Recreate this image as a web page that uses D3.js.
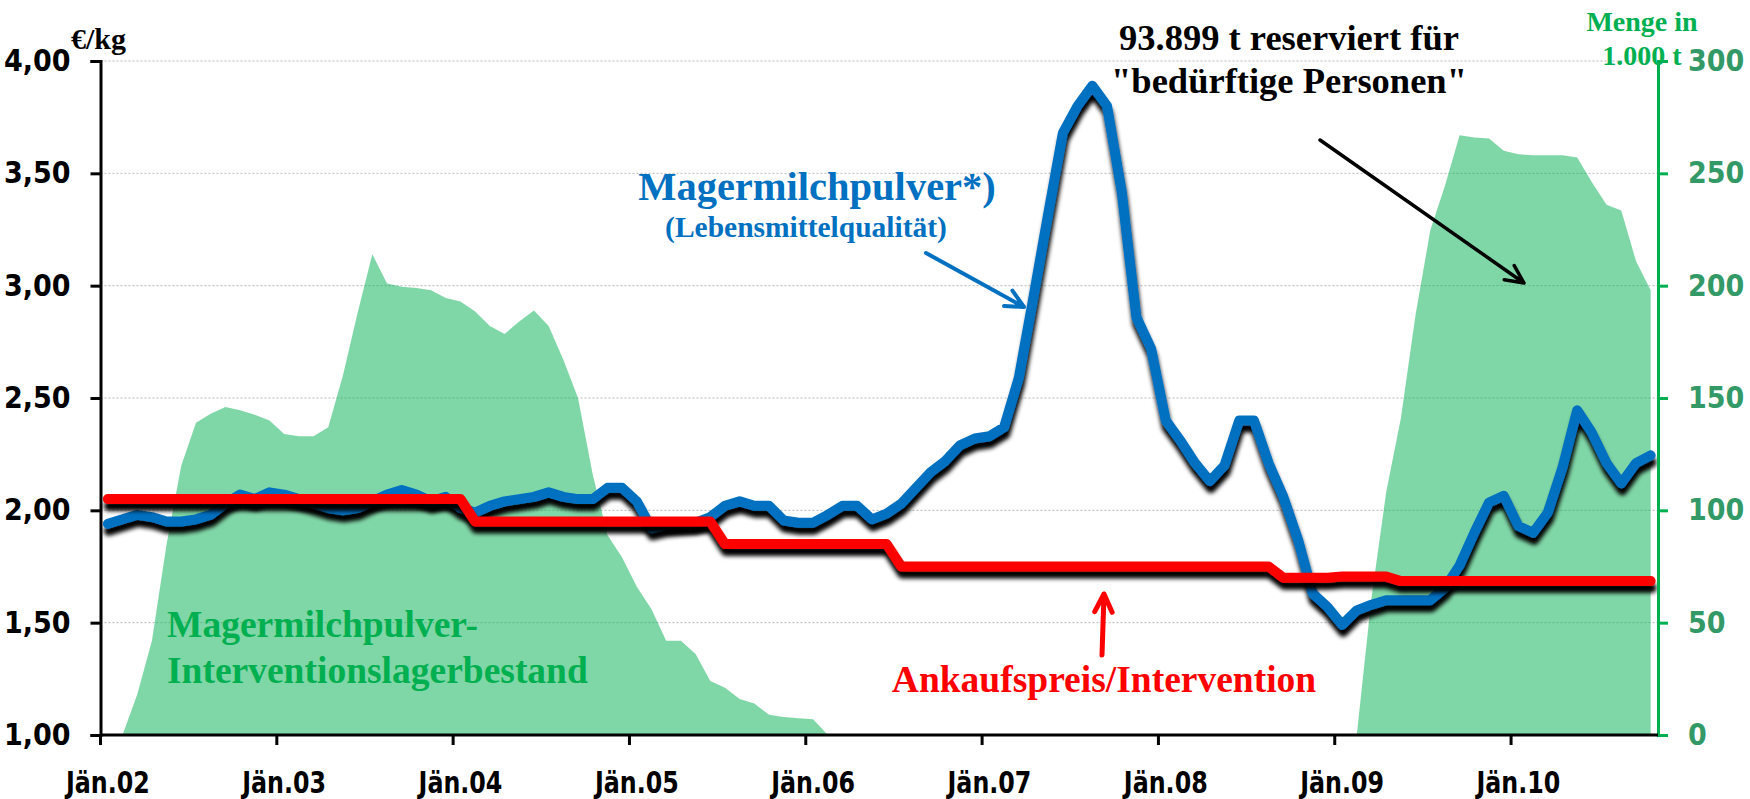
<!DOCTYPE html>
<html>
<head>
<meta charset="utf-8">
<script src="https://cdn.jsdelivr.net/npm/d3@7"></script>
<style>
  body {margin:0; background:white;}
  svg {display:block;}
</style>
</head>
<body>
<div id="chart"></div>
<script>
//Set dimensions of svg
var w=1750;
var h=799;

//Months Jän.02 .. Okt.10, one value per month
var tickLabels=["Jän.02","Jän.03","Jän.04","Jän.05","Jän.06","Jän.07","Jän.08","Jän.09","Jän.10"];
var tickMonths=[0,12,24,36,48,60,72,84,96];

//Magermilchpulver (Lebensmittelqualität), €/kg
var smpPrice=[1.94,1.96,1.98,1.97,1.95,1.95,1.96,1.98,2.03,2.07,2.05,2.08,
              2.07,2.05,2.03,2.01,2.00,2.01,2.04,2.07,2.09,2.07,2.04,2.06,
              2.01,1.99,2.02,2.04,2.05,2.06,2.08,2.06,2.05,2.05,2.10,2.10,
              2.04,1.92,1.935,1.94,1.945,1.97,2.02,2.04,2.02,2.02,1.955,1.945,
              1.945,1.98,2.02,2.02,1.96,1.985,2.03,2.10,2.17,2.22,2.29,2.32,
              2.33,2.37,2.59,2.95,3.32,3.68,3.80,3.89,3.80,3.42,2.86,2.72,
              2.40,2.31,2.21,2.13,2.20,2.40,2.40,2.21,2.06,1.87,1.63,1.57,
              1.49,1.555,1.58,1.60,1.60,1.60,1.60,1.655,1.755,1.90,2.035,2.065,
              1.93,1.90,1.99,2.19,2.445,2.345,2.21,2.12,2.21,2.245];

//Ankaufspreis/Intervention, €/kg
var interventionPrice=[2.05,2.05,2.05,2.05,2.05,2.05,2.05,2.05,2.05,2.05,2.05,2.05,
              2.05,2.05,2.05,2.05,2.05,2.05,2.05,2.05,2.05,2.05,2.05,2.05,
              2.05,1.95,1.95,1.95,1.95,1.95,1.95,1.95,1.95,1.95,1.95,1.95,
              1.95,1.95,1.95,1.95,1.95,1.95,1.85,1.85,1.85,1.85,1.85,1.85,
              1.85,1.85,1.85,1.85,1.85,1.85,1.75,1.75,1.75,1.75,1.75,1.75,
              1.75,1.75,1.75,1.75,1.75,1.75,1.75,1.75,1.75,1.75,1.75,1.75,
              1.75,1.75,1.75,1.75,1.75,1.75,1.75,1.75,1.70,1.70,1.70,1.70,
              1.705,1.705,1.705,1.705,1.685,1.685,1.685,1.685,1.685,1.685,1.685,1.685,
              1.685,1.685,1.685,1.685,1.685,1.685,1.685,1.685,1.685,1.685];

//Interventionslagerbestand, 1.000 t
var stock=[0,0,18,42,85,120,139,143,146,144.5,142.5,140,
           134,133,133,137,160,188,214,201,199.5,199,198,194.5,
           193,188.5,182,178.5,184,189,182,167,150,116,89,79,
           66,56,42,42,36,24,21,16,14,9,8,7.5,
           7,0,0,0,0,0,0,0,0,0,0,0,
           0,0,0,0,0,0,0,0,0,0,0,0,
           0,0,0,0,0,0,0,0,0,0,0,0,
           0,0,61,108,141,187,224.5,244.5,267,266,265.5,260,
           258.5,258,258,258,257,246,236,233.5,211,198];

var leftTicks=[1.00,1.50,2.00,2.50,3.00,3.50,4.00];
var rightTicks=[0,50,100,150,200,250,300];

//Colors
var blue="#0070C0";
var red="#FF0000";
var green="#00B050";
var greenText="#339966";

var serif="'Liberation Serif','Times New Roman',serif";
var narrow="'Liberation Sans Narrow','DejaVu Sans Condensed',sans-serif";

//Plot area
var x0=100.5, x1=1658, yTop=61, yBottom=735;

var x=d3.scaleLinear().domain([0,106]).range([x0,x1]);
var yL=d3.scaleLinear().domain([1,4]).range([yBottom,yTop]);
var yR=d3.scaleLinear().domain([0,300]).range([yBottom,yTop]);

var svg=d3.select("#chart")
          .append("svg")
          .attr("width",w)
          .attr("height",h);

//Drop shadow for the thick lines
var filter=svg.append("defs")
              .append("filter")
              .attr("id","shadow")
              .attr("filterUnits","userSpaceOnUse")
              .attr("x",0).attr("y",0).attr("width",w).attr("height",h);
filter.append("feGaussianBlur").attr("in","SourceAlpha").attr("stdDeviation",2.2).attr("result","blur");
filter.append("feOffset").attr("in","blur").attr("dx",1).attr("dy",7).attr("result","off");
filter.append("feComponentTransfer").attr("in","off").attr("result","dark")
      .append("feFuncA").attr("type","linear").attr("slope",1);
var merge=filter.append("feMerge");
merge.append("feMergeNode").attr("in","dark");
merge.append("feMergeNode").attr("in","SourceGraphic");

//Gridlines
svg.append("g")
   .selectAll("line")
   .data(leftTicks.slice(1))
   .enter()
   .append("line")
   .attr("x1",x0).attr("x2",x1)
   .attr("y1",function(d) {return yL(d);})
   .attr("y2",function(d) {return yL(d);})
   .style("stroke","#b8b8b8")
   .style("stroke-width",1)
   .style("stroke-dasharray","2,2");

//Stock area (right axis)
var area=d3.area()
           .x(function(d,i) {return x(i+0.5);})
           .y0(yBottom)
           .y1(function(d) {return yR(d);});
svg.append("path")
   .datum(stock)
   .attr("d",area)
   .style("fill",green)
   .style("fill-opacity",0.5);

//Price lines
var line=function(ys) {
    return d3.line()
             .x(function(d,i) {return x(i+0.5);})
             .y(function(d) {return ys(d);});
};
svg.append("path")
   .datum(smpPrice)
   .attr("d",line(yL))
   .attr("filter","url(#shadow)")
   .style("fill","none")
   .style("stroke",blue)
   .style("stroke-width",10)
   .style("stroke-linejoin","round")
   .style("stroke-linecap","round");
svg.append("path")
   .datum(interventionPrice)
   .attr("d",line(yL))
   .attr("filter","url(#shadow)")
   .style("fill","none")
   .style("stroke",red)
   .style("stroke-width",10)
   .style("stroke-linejoin","round")
   .style("stroke-linecap","round");

//Left axis
var leftAxis=d3.axisLeft(yL)
               .tickValues(leftTicks)
               .tickSize(10)
               .tickPadding(20)
               .tickFormat(function(d) {return d3.format(".2f")(d).replace(".",",");});
var gl=svg.append("g").attr("transform","translate("+x0+",0)").call(leftAxis);
gl.select(".domain").style("stroke","black").style("stroke-width",3);
gl.selectAll(".tick line").style("stroke","black").style("stroke-width",3);
gl.selectAll(".tick text")
  .style("font-family",narrow).style("font-weight","bold").style("font-size","30px").style("fill","black");

//Right axis
var rightAxis=d3.axisRight(yR)
                .tickValues(rightTicks)
                .tickSize(10)
                .tickPadding(20);
var gr=svg.append("g").attr("transform","translate("+x1+",0)").call(rightAxis);
gr.select(".domain").style("stroke",green).style("stroke-width",3);
gr.selectAll(".tick line").style("stroke",green).style("stroke-width",3);
gr.selectAll(".tick text")
  .style("font-family",narrow).style("font-weight","bold").style("font-size","30px").style("fill",greenText);

//Bottom axis, labels centred on the category
var gb=svg.append("g").attr("transform","translate(0,"+yBottom+")");
gb.append("line").attr("x1",x0).attr("x2",x1).attr("y1",0).attr("y2",0)
  .style("stroke","black").style("stroke-width",3);
gb.selectAll(".tick")
  .data(tickMonths)
  .enter()
  .append("line")
  .attr("x1",function(d) {return x(d);})
  .attr("x2",function(d) {return x(d);})
  .attr("y1",0).attr("y2",10)
  .style("stroke","black").style("stroke-width",3);
gb.selectAll("text")
  .data(tickMonths)
  .enter()
  .append("text")
  .text(function(d,i) {return tickLabels[i];})
  .attr("transform",function(d) {return "translate("+x(d+0.5)+",58) scale(0.88,1)";})
  .attr("text-anchor","middle")
  .style("font-family",narrow).style("font-weight","bold").style("font-size","30px");

//Axis titles
svg.append("text")
   .text("€/kg")
   .attr("x",71).attr("y",49)
   .style("font-family",serif).style("font-weight","bold").style("font-size","30px");
svg.append("text")
   .attr("text-anchor","middle")
   .style("font-family",serif).style("font-weight","bold").style("font-size","28px").style("fill",green)
   .selectAll("tspan")
   .data(["Menge in","1.000 t"])
   .enter()
   .append("tspan")
   .attr("x",1642)
   .attr("y",function(d,i) {return 31+i*34;})
   .text(function(d) {return d;});

//Annotations
function annotate(lines,xPos,yPos,size,color,gap,anchor) {
    svg.append("text")
       .attr("text-anchor",anchor)
       .style("font-family",serif).style("font-weight","bold").style("font-size",size+"px").style("fill",color)
       .selectAll("tspan")
       .data(lines)
       .enter()
       .append("tspan")
       .attr("x",xPos)
       .attr("y",function(d,i) {return yPos+i*gap;})
       .text(function(d) {return d;});
}
annotate(["93.899 t reserviert für","\"bedürftige Personen\""],1289,50,36.5,"black",43,"middle");
annotate(["Magermilchpulver*)"],817,200,40.5,blue,0,"middle");
annotate(["(Lebensmittelqualität)"],806,237,29.5,blue,0,"middle");
annotate(["Magermilchpulver-","Interventionslagerbestand"],167,637,37.5,green,46,"start");
annotate(["Ankaufspreis/Intervention"],1104,692,37.5,red,0,"middle");

//Arrows with open heads
function arrow(ax,ay,bx,by,color,width) {
    var ang=Math.atan2(by-ay,bx-ax), len=20, spread=0.45;
    var p="M"+ax+","+ay+"L"+bx+","+by+
          "M"+(bx-len*Math.cos(ang-spread))+","+(by-len*Math.sin(ang-spread))+
          "L"+bx+","+by+
          "L"+(bx-len*Math.cos(ang+spread))+","+(by-len*Math.sin(ang+spread));
    svg.append("path")
       .attr("d",p)
       .style("fill","none")
       .style("stroke",color)
       .style("stroke-width",width)
       .style("stroke-linecap","round")
       .style("stroke-linejoin","round");
}
arrow(926,253,1024,307,blue,4);
arrow(1102,655,1104,594,red,5);
arrow(1320,140,1524,283,"black",3.5);
</script>
</body>
</html>
